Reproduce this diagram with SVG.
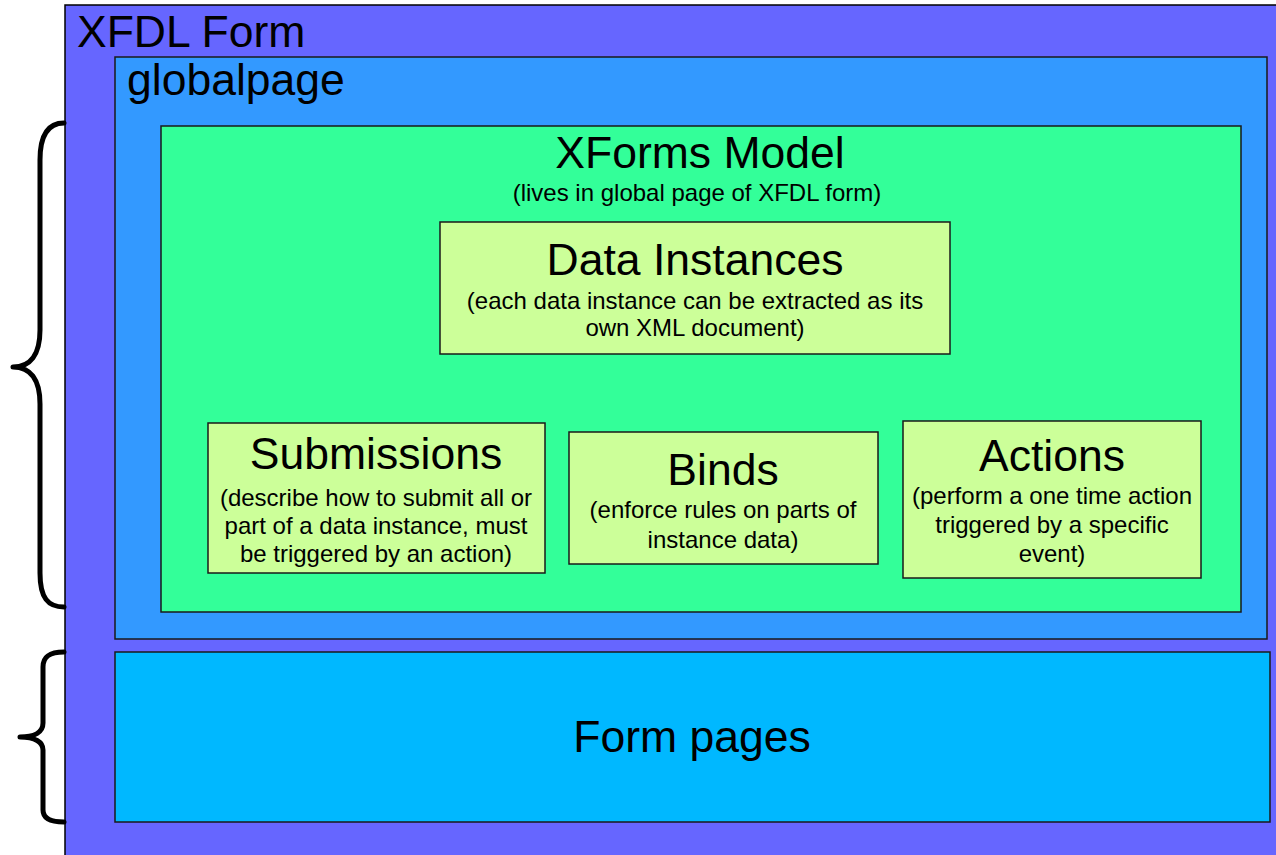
<svg xmlns="http://www.w3.org/2000/svg" width="1276" height="855" viewBox="0 0 1276 855">
<style>
text{font-family:"Liberation Sans",Arial,sans-serif;fill:#000}
.t{font-size:44.5px}
.s{font-size:24px}
.c{text-anchor:middle}
.box{stroke:#1a1a1a;stroke-width:1.5}
.brace{fill:none;stroke:#000;stroke-width:5;stroke-linecap:round;stroke-linejoin:round}
</style>
<rect width="1276" height="855" fill="#fff"/>
<g id="xfdl-form">
<rect x="65" y="5" width="1215" height="855" fill="#6666FF" stroke="#000" stroke-width="1.5"/>
<text class="t" x="77" y="47">XFDL Form</text>
</g>
<g id="globalpage">
<rect class="box" x="115" y="57" width="1152" height="582" fill="#3399FF"/>
<text class="t" x="127" y="95">globalpage</text>
</g>
<g id="xforms-model">
<rect class="box" x="161" y="126" width="1080" height="486" fill="#33FF99"/>
<text class="t c" x="700" y="168">XForms Model</text>
<text class="s c" x="697" y="201">(lives in global page of XFDL form)</text>
</g>
<g id="data-instances">
<rect class="box" x="440" y="222" width="510" height="132" fill="#CCFF99"/>
<text class="t c" x="695" y="275">Data Instances</text>
<text class="s c" x="695" y="309">(each data instance can be extracted as its</text>
<text class="s c" x="695" y="336">own XML document)</text>
</g>
<g id="submissions">
<rect class="box" x="208" y="423" width="337" height="150" fill="#CCFF99"/>
<text class="t c" x="376" y="469">Submissions</text>
<text class="s c" x="376" y="506">(describe how to submit all or</text>
<text class="s c" x="376" y="534">part of a data instance, must</text>
<text class="s c" x="376" y="562">be triggered by an action)</text>
</g>
<g id="binds">
<rect class="box" x="569" y="432" width="309" height="132" fill="#CCFF99"/>
<text class="t c" x="723" y="485">Binds</text>
<text class="s c" x="723" y="518">(enforce rules on parts of</text>
<text class="s c" x="723" y="548">instance data)</text>
</g>
<g id="actions">
<rect class="box" x="903" y="421" width="298" height="157" fill="#CCFF99"/>
<text class="t c" x="1052" y="471">Actions</text>
<text class="s c" x="1052" y="504">(perform a one time action</text>
<text class="s c" x="1052" y="533">triggered by a specific</text>
<text class="s c" x="1052" y="562">event)</text>
</g>
<g id="form-pages">
<rect class="box" x="115" y="652" width="1155" height="170" fill="#00B8FF"/>
<text class="t c" x="692" y="752">Form pages</text>
</g>
<g id="connectors">
<path class="brace" d="M64,123 C48,123 40,135 40,160 L40,330 C40,355 30,367 13,367 C30,367 40,379 40,404 L40,573 C40,598 48,607 64,607"/>
<path class="brace" d="M64,652 C50,652 43,656 43,667 L43,723 C43,732 35,737 20,737 C35,737 43,742 43,750 L43,810 C43,818 50,822 64,822"/>
</g>
</svg>
